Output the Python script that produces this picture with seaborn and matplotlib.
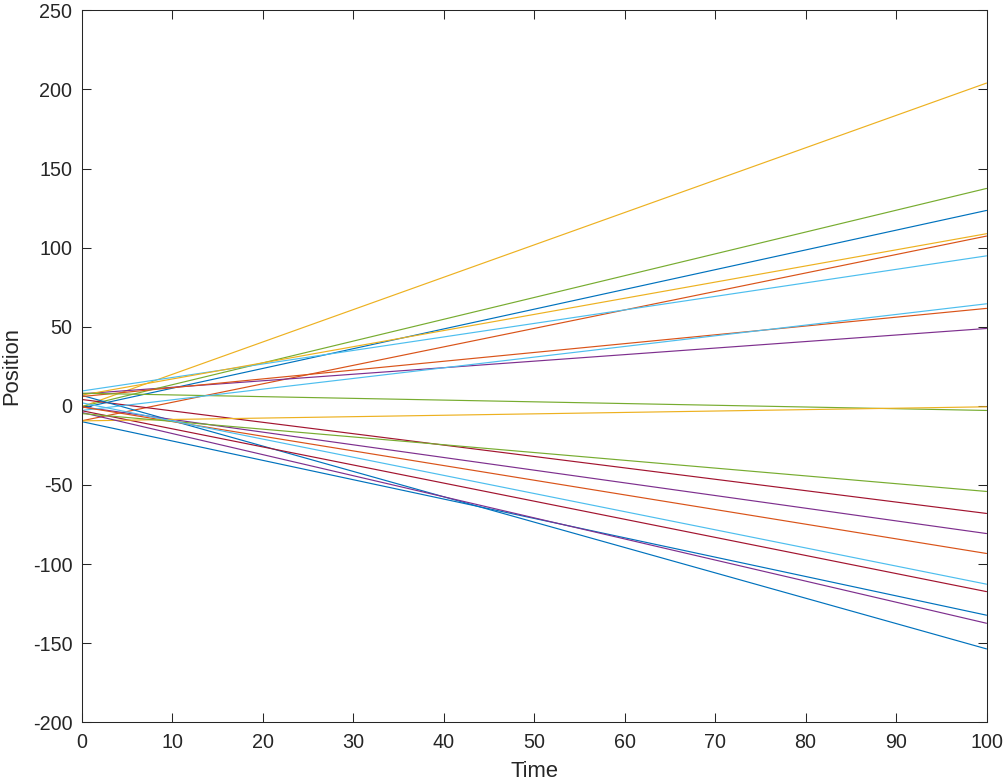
import numpy as np
import pandas as pd
import matplotlib
matplotlib.use("Agg")
import matplotlib.pyplot as plt
import seaborn as sns

# ---- data ----
line_ids = [f"L{i+1}" for i in range(20)]
time_points = [0, 100]
start_positions = [-1.3, -9.4, -0.5, 7.6, -0.4, 9.4, 4.0,
                   6.6, 5.9, 6.8, -0.6, 8.0, -2.9, -3.1,
                   -10.0, -0.7, -9.5, -4.2, -4.9, 1.9]
end_positions = [123.5, 107.3, 204.0, 48.9, 137.4, 94.8, -68.0,
                 -153.6, 61.6, 108.8, -80.7, -2.9, 64.5, -117.4,
                 -132.3, -93.3, -0.6, -137.4, -54.1, -112.7]
x_ticks = [0, 10, 20, 30, 40, 50, 60, 70, 80, 90, 100]
y_ticks = [-200, -150, -100, -50, 0, 50, 100, 150, 200, 250]

matlab_colors = ["#0072BD", "#D95319", "#EDB120", "#7E2F8E",
                 "#77AC30", "#4DBEEE", "#A2142F"]
palette = [matlab_colors[i % 7] for i in range(len(line_ids))]

rows = []
for lid, s, e in zip(line_ids, start_positions, end_positions):
    rows.append({"Time": time_points[0], "Position": s, "line": lid})
    rows.append({"Time": time_points[1], "Position": e, "line": lid})
df = pd.DataFrame(rows)

sns.set_theme(style="white")
plt.rcParams['font.family'] = ['Liberation Sans', 'DejaVu Sans']
plt.rcParams['axes.edgecolor'] = '#262626'
plt.rcParams['axes.linewidth'] = 0.75

fig = plt.figure(figsize=(10.05, 7.83), dpi=100)
ax = fig.add_axes([82/1005, (783-722.3)/783, (986.5-82)/1005, (722.3-10.3)/783])

sns.lineplot(data=df, x="Time", y="Position", hue="line", hue_order=line_ids,
             palette=palette, estimator=None, sort=False, legend=False,
             linewidth=0.85, ax=ax)

ax.set_xlim(0, 100)
ax.set_ylim(-200, 250)
ax.set_xticks(x_ticks)
ax.set_yticks(y_ticks)
ax.set_xticklabels([str(v) for v in x_ticks])
ax.set_yticklabels([str(v) for v in y_ticks])
ax.tick_params(direction="in", length=6.5, width=0.75, colors="#262626",
               labelsize=14.2, pad=7, top=True, right=True,
               bottom=True, left=True)
ax.tick_params(axis="x", pad=8)
for sp in ax.spines.values():
    sp.set_visible(True)
    sp.set_color("#262626")
    sp.set_linewidth(0.75)

ax.set_xlabel("Time", fontsize=15.8, color="#262626")
ax.set_ylabel("Position", fontsize=15.8, color="#262626")
ax.xaxis.set_label_coords(0.5, (722.3-771.5)/712)
ax.xaxis.label.set_va("center")
ax.yaxis.set_label_coords((12-82)/904.5, 0.5)
ax.yaxis.label.set_va("center")

fig.savefig("out.png", dpi=100)
